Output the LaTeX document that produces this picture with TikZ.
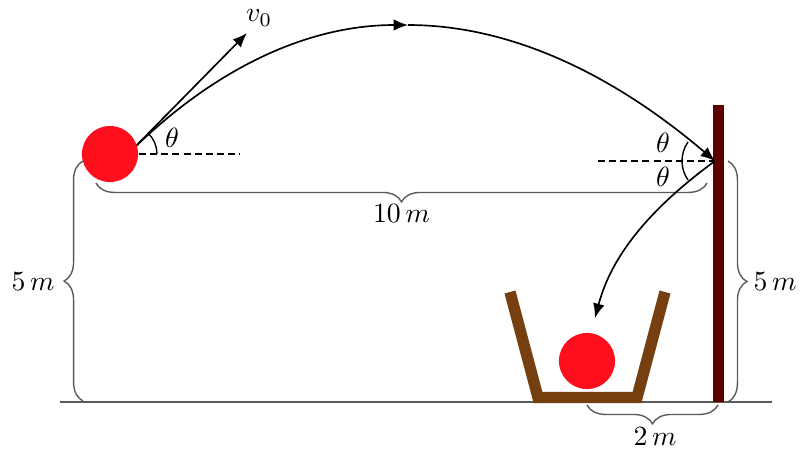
\documentclass[tikz,border=0pt]{standalone}
\usetikzlibrary{arrows.meta,decorations.pathreplacing}
\definecolor{ballred}{RGB}{255,15,30}
\definecolor{bucketbrown}{RGB}{118,63,15}
\definecolor{wallred}{RGB}{95,0,0}
\definecolor{bracegray}{RGB}{90,90,90}
\begin{document}
\begin{tikzpicture}[x=0.36pt,y=0.36pt,
  traj/.style={line width=0.6pt},
  tip/.style={-{Latex[length=5.2pt,width=4.2pt]}},
  dashline/.style={line width=0.6pt, dash pattern=on 2.5pt off 1.5pt},
  bracedim/.style={draw=bracegray, line width=0.5pt, decorate, decoration={brace, amplitude=6.8pt}},
  lbl/.style={inner sep=0pt},
  ball/.style={circle, fill=ballred, minimum size=20.2pt, inner sep=0pt}]
\useasboundingbox (0,0) rectangle (805,457);
% coordinates
\coordinate (V) at (128,303);
\coordinate (P) at (408,432);
\coordinate (W) at (715,296);
\coordinate (E) at (595,139);
\coordinate (vtip) at (247,424);
\coordinate (d1) at (240,303);
\coordinate (d2) at (598,296);
\coordinate (gl) at (60,55);
\coordinate (gr) at (772,55);
% ground
\draw[bracegray, line width=0.5pt] (gl) -- (gr);
% wall
\fill[wallred] (713,55) rectangle (724,352);
% bucket
\draw[bucketbrown, line width=4.1pt, line join=miter] (510,165) -- (538,59.5) -- (637,59.5) -- (665,165);
% braces
\draw[bracedim] (707,274) -- (96,274) node[midway, below=7.5pt, lbl, black] {$10\,m$};
\draw[bracedim] (83,56) -- (83,296);
\node[lbl] (l5a) at (33,175) {$5\,m$};
\draw[bracedim] (728,296) -- (728,55);
\node[lbl] (l5b) at (775,175) {$5\,m$};
\draw[bracedim] (718,52) -- (587,52);
\node[lbl] (l2) at (655,20) {$2\,m$};
% trajectories
\draw[traj,tip] (V) .. controls (214,389) and (308,432) .. (P);
\draw[traj,tip] (P) .. controls (506,432) and (608,387) .. (W);
\draw[traj,tip] (W) .. controls (630,234) and (607,184) .. (E);
% velocity vector
\draw[traj,tip] (V) -- (vtip);
\node[lbl] (v0) at (259,439) {$v_0$};
% dashed references
\draw[dashline] (V) -- (d1);
\draw[dashline] (d2) -- (W);
% angles
\draw[line width=0.5pt] (V) ++(29,0) arc[start angle=0, end angle=45, radius=29];
\node[lbl] (th1) at (172,319) {$\theta$};
\draw[line width=0.5pt] (W) ++(145:33) arc[start angle=145, end angle=215, radius=33];
\node[lbl] (th2) at (663,314) {$\theta$};
\node[lbl] (th3) at (663,280) {$\theta$};
% balls
\node[ball] (b1) at (110,303) {};
\node[ball] (b2) at (587,96) {};
\end{tikzpicture}
\end{document}
